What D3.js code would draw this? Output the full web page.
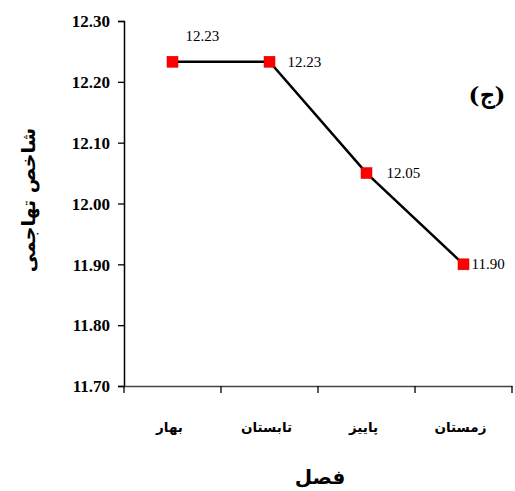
<!DOCTYPE html>
<html>
<head>
<meta charset="utf-8">
<script src="https://cdn.jsdelivr.net/npm/d3@7"></script>
<style>
  body { margin: 0; background: #fff; }
</style>
</head>
<body>
<div id="chart"></div>
<script>
// seasons and index values
const seasons = ['بهار', 'تابستان', 'پاییز', 'زمستان'];
const values = [12.233, 12.233, 12.05, 11.90];
const valueLabels = ['12.23', '12.23', '12.05', '11.90'];
const yTicks = [11.70, 11.80, 11.90, 12.00, 12.10, 12.20, 12.30];

const width = 515, height = 491;
const margin = { top: 21, right: 3, bottom: 105, left: 124 };

const svg = d3.select('#chart').append('svg')
  .attr('width', width)
  .attr('height', height);

const x = d3.scaleBand()
  .domain(seasons)
  .range([margin.left, width - margin.right])
  .padding(0);

const y = d3.scaleLinear()
  .domain([11.70, 12.30])
  .range([height - margin.bottom, margin.top]);

// y axis
const yAxis = svg.append('g')
  .attr('transform', `translate(${margin.left},0)`)
  .call(d3.axisLeft(y).tickValues(yTicks).tickFormat(d3.format('.2f')).tickSizeOuter(0).tickSize(6).tickPadding(8));
yAxis.attr('font-family', 'Liberation Serif').attr('font-size', 17);
yAxis.select('.domain').attr('stroke', '#000').attr('stroke-width', 1.5);
yAxis.selectAll('.tick line').attr('stroke', '#000').attr('stroke-width', 1.3);
yAxis.selectAll('text')
  .attr('font-weight', 'bold')
  .attr('dy', '0.34em')
  .attr('fill', '#000');

// x axis
const xAxis = svg.append('g')
  .attr('transform', `translate(0,${y(11.70)})`)
  .call(d3.axisBottom(x).tickSize(0).tickPadding(0));
xAxis.select('.domain').attr('stroke', '#444').attr('stroke-width', 1.5);
xAxis.selectAll('.tick text').remove();

// x tick marks at band edges
const edges = seasons.map(s => x(s)).concat([x(seasons[3]) + x.bandwidth()]);
xAxis.selectAll('line.edge')
  .data(edges)
  .join('line')
  .attr('class', 'edge')
  .attr('x1', d => d).attr('x2', d => d)
  .attr('y1', 0).attr('y2', 7)
  .attr('stroke', '#000')
  .attr('stroke-width', 1.3);

// category labels
svg.selectAll('text.cat')
  .data(seasons)
  .join('text')
  .attr('class', 'cat')
  .attr('x', d => x(d) + x.bandwidth() / 2 - 3)
  .attr('y', y(11.70) + 46)
  .attr('text-anchor', 'middle')
  .attr('direction', 'rtl')
  .attr('font-family', 'DejaVu Sans')
  .attr('font-weight', 'bold')
  .attr('font-size', 13.5)
  .text(d => d);

// line
const line = d3.line()
  .x((d, i) => x(seasons[i]) + x.bandwidth() / 2)
  .y(d => y(d));

svg.append('path')
  .datum(values)
  .attr('d', line)
  .attr('fill', 'none')
  .attr('stroke', '#000')
  .attr('stroke-width', 2.5);

// markers
const ms = 11;
svg.selectAll('rect.marker')
  .data(values)
  .join('rect')
  .attr('class', 'marker')
  .attr('x', (d, i) => x(seasons[i]) + x.bandwidth() / 2 - ms / 2)
  .attr('y', d => y(d) - ms / 2)
  .attr('width', ms)
  .attr('height', ms)
  .attr('fill', '#ff0000')
  .attr('stroke', '#c00')
  .attr('stroke-width', 0.5);

// data labels
const labelOffsets = [[13, -21], [18, 5], [20, 5], [8, 5]];
svg.selectAll('text.val')
  .data(values)
  .join('text')
  .attr('class', 'val')
  .attr('x', (d, i) => x(seasons[i]) + x.bandwidth() / 2 + labelOffsets[i][0])
  .attr('y', (d, i) => y(d) + labelOffsets[i][1])
  .attr('font-family', 'Liberation Serif')
  .attr('font-size', 15)
  .text((d, i) => valueLabels[i]);

// panel letter
svg.append('text')
  .attr('x', 487)
  .attr('y', 103)
  .attr('text-anchor', 'middle')
  .attr('font-family', 'DejaVu Serif')
  .attr('font-weight', 'bold')
  .attr('font-size', 23)
  .text('(ج)');

// axis titles
svg.append('text')
  .attr('x', 320)
  .attr('y', 484)
  .attr('text-anchor', 'middle')
  .attr('direction', 'rtl')
  .attr('font-family', 'DejaVu Sans')
  .attr('font-weight', 'bold')
  .attr('font-size', 20)
  .text('فصل');

svg.append('text')
  .attr('transform', 'translate(35,200) rotate(-90)')
  .attr('text-anchor', 'middle')
  .attr('direction', 'rtl')
  .attr('font-family', 'DejaVu Sans')
  .attr('font-weight', 'bold')
  .attr('font-size', 19)
  .text('شاخص تهاجمی');
</script>
</body>
</html>
